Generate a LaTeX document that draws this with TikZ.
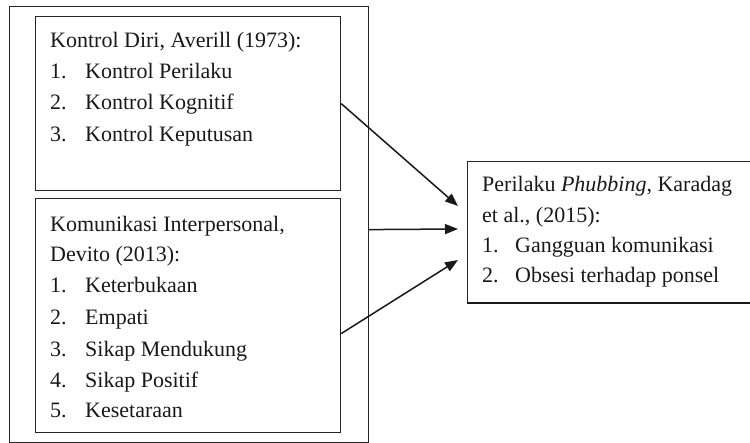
\documentclass[tikz,border=0pt]{standalone}
\usepackage{fontspec}
\setmainfont{Liberation Serif}
\usetikzlibrary{arrows.meta}
\begin{document}
\begin{tikzpicture}[x=1pt,y=-1pt,
  box/.style={draw=black!85,line width=1.2pt,inner sep=0pt,anchor=north west},
  txt/.style={anchor=base west,inner sep=0pt,text=black!90,font=\fontsize{22}{26}\selectfont},
  arr/.style={draw=black!90,line width=1.5pt,-{Triangle[length=13pt,width=10pt]}}]
\useasboundingbox (0,0) rectangle (750,443);
\clip (0,0) rectangle (750,443);
% boxes
\node[box,minimum width=359pt,minimum height=436pt] (outer) at (9,6) {};
\node[box,minimum width=305pt,minimum height=174pt] (box1) at (35,16) {};
\node[box,minimum width=305pt,minimum height=234pt] (box2) at (35,198) {};
\node[box,minimum width=300pt,minimum height=141pt] (box3) at (467,161) {};
\draw[black!90,line width=2.6pt] (box3.south west) -- ([xshift=20pt]box3.south east);
% box 1 text
\node[txt] (k0) at (50,48) {Kontrol Diri, Averill (1973):};
\node[txt] (k1n) at (50,79) {1.}; \node[txt] (k1) at (85,79) {Kontrol Perilaku};
\node[txt] (k2n) at (50,110) {2.}; \node[txt] (k2) at (85,110) {Kontrol Kognitif};
\node[txt] (k3n) at (50,142) {3.}; \node[txt] (k3) at (85,142) {Kontrol Keputusan};
% box 2 text
\node[txt] (c0) at (50,232) {Komunikasi Interpersonal,};
\node[txt] (c0b) at (50,262) {Devito (2013):};
\node[txt] (c1n) at (50,293) {1.}; \node[txt] (c1) at (85,293) {Keterbukaan};
\node[txt] (c2n) at (50,325) {2.}; \node[txt] (c2) at (85,325) {Empati};
\node[txt] (c3n) at (50,357) {3.}; \node[txt] (c3) at (85,357) {Sikap Mendukung};
\node[txt] (c4n) at (50,388) {4.}; \node[txt] (c4) at (85,388) {Sikap Positif};
\node[txt] (c5n) at (50,418) {5.}; \node[txt] (c5) at (85,418) {Kesetaraan};
% box 3 text
\node[txt] (p0) at (482,192) {Perilaku \textit{Phubbing}, Karadag};
\node[txt] (p0b) at (482,223) {et al., (2015):};
\node[txt] (p1n) at (482,253) {1.}; \node[txt] (p1) at (515,253) {Gangguan komunikasi};
\node[txt] (p2n) at (482,283) {2.}; \node[txt] (p2) at (515,283) {Obsesi terhadap ponsel};
% arrow targets
\coordinate (t1) at ([xshift=-9pt,yshift=-45pt]box3.north west);
\coordinate (t2) at ([xshift=-9pt,yshift=-68pt]box3.north west);
\coordinate (t3) at ([xshift=-9pt,yshift=-99pt]box3.north west);
% arrows
\draw[arr] (box1.east) -- (t1);
\draw[arr] ([yshift=-5pt]outer.east) -- (t2);
\draw[arr] ([yshift=-18pt]box2.east) -- (t3);
\end{tikzpicture}
\end{document}
